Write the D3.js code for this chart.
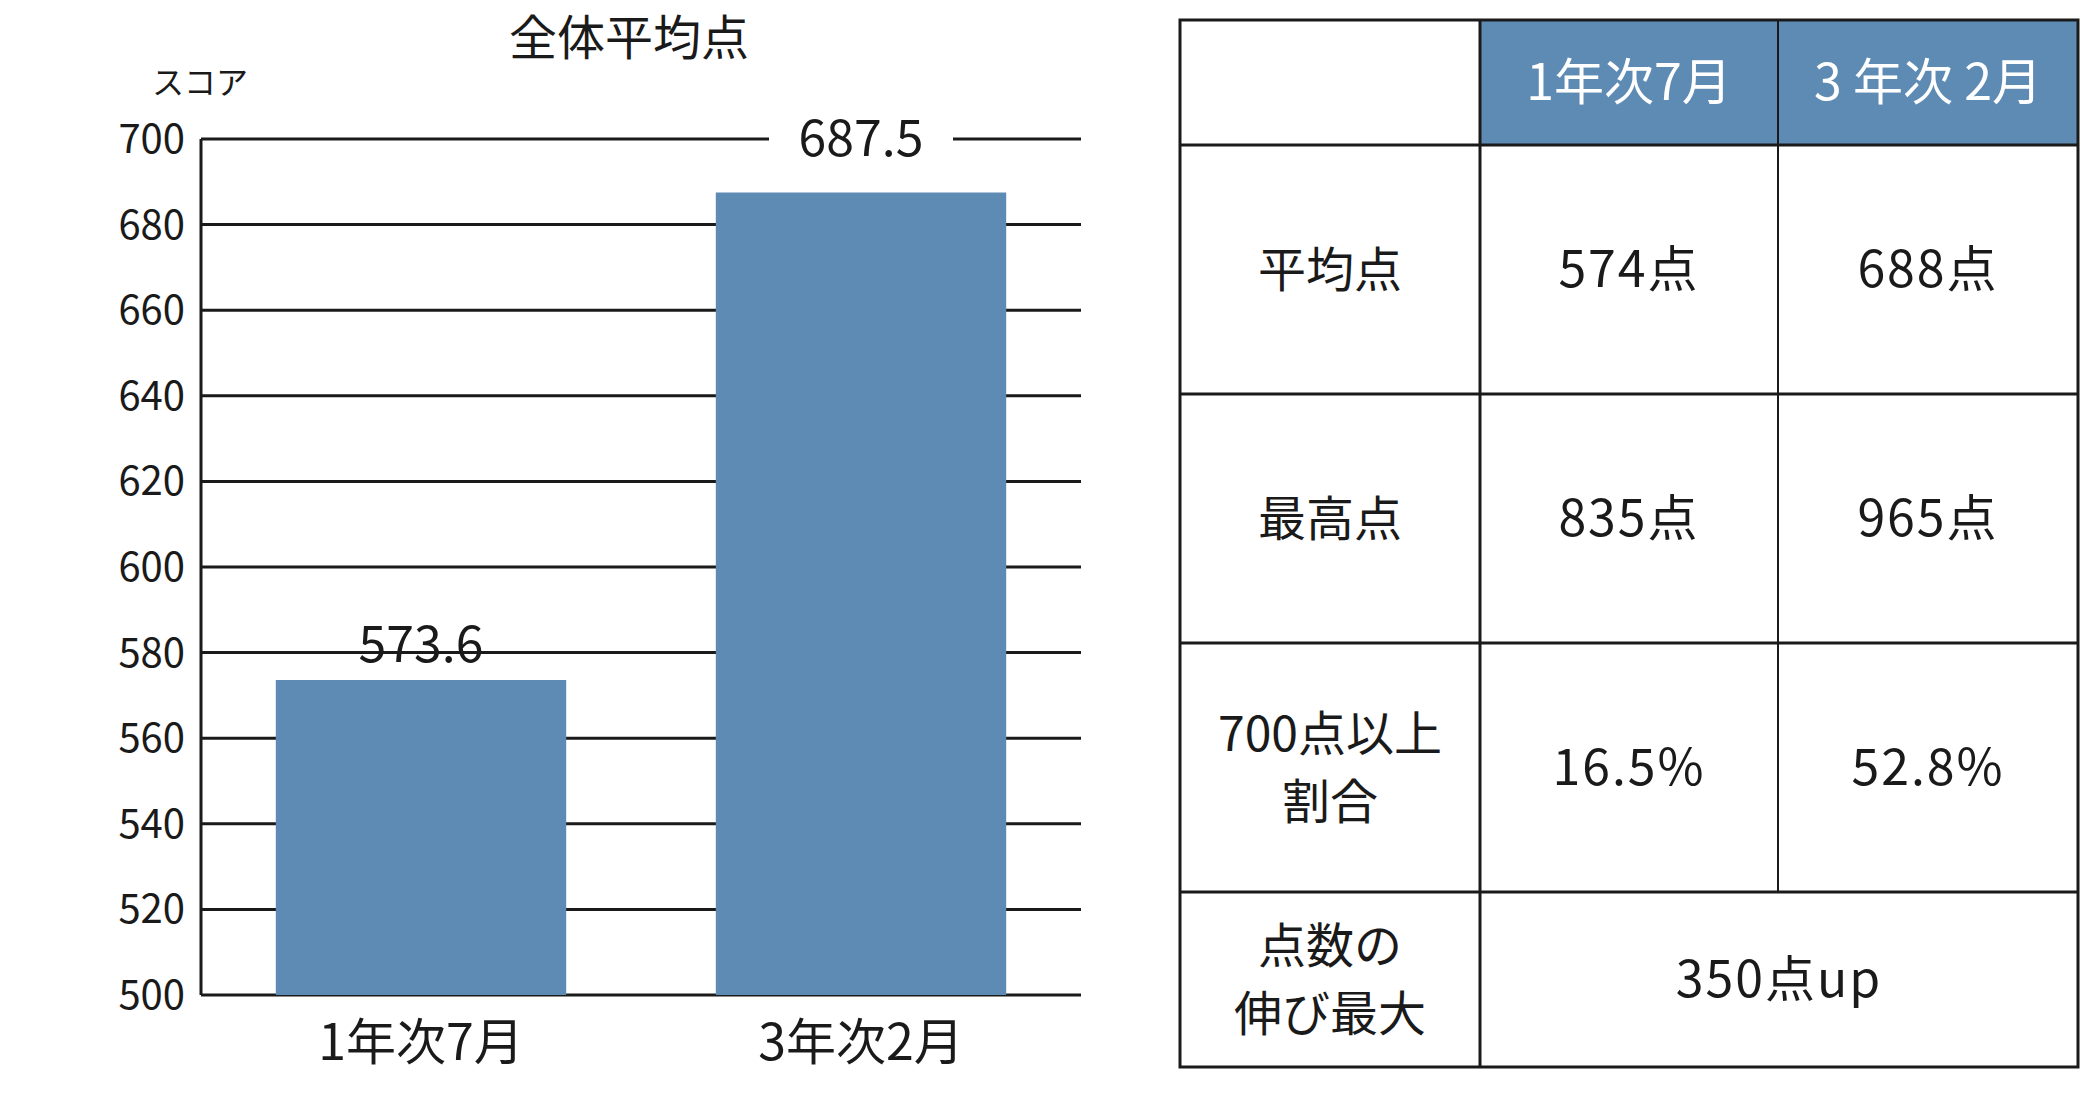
<!DOCTYPE html><html><head><meta charset="utf-8"><script src="https://cdn.jsdelivr.net/npm/d3@7"></script>
<style>body{margin:0;background:#fff}text{font-family:"Noto Sans CJK JP";fill:#1a1a1a}</style></head><body>
<svg id="c" width="2100" height="1108"></svg>
<script>
const categories=["1年次7月","3年次2月"];
const values=[573.6,687.5];
const valueLabels=["573.6","687.5"];
const yTicks=[500,520,540,560,580,600,620,640,660,680,700];
const tableHeader=["","1年次7月","3 年次 2月"];
const rowLabels=[["平均点"],["最高点"],["700点以上","割合"],["点数の","伸び最大"]];
const rowCells=[["574点","688点"],["835点","965点"],["16.5%","52.8%"],["350点up"]];
const blue="#5e8bb4";
const svg=d3.select("#c");
const x=d3.scaleBand().domain(categories).range([201,1081]).paddingInner(0.34).paddingOuter(0.17);
const y=d3.scaleLinear().domain([500,700]).range([995,139]);
const g=svg.append("g");
g.selectAll("line.g").data(yTicks).join("line").attr("x1",201).attr("x2",1081).attr("y1",d=>y(d)).attr("y2",d=>y(d)).attr("stroke","#1a1a1a").attr("stroke-width",3);
g.append("line").attr("x1",201).attr("x2",201).attr("y1",139).attr("y2",995).attr("stroke","#1a1a1a").attr("stroke-width",3);
g.selectAll("text.t").data(yTicks).join("text").attr("x",185).attr("y",d=>y(d)+14).attr("text-anchor","end").attr("font-size",40).text(d=>d);
g.selectAll("rect").data(values).join("rect").attr("x",(d,i)=>x(categories[i])).attr("width",x.bandwidth()).attr("y",d=>y(d)).attr("height",d=>y(500)-y(d)).attr("fill",blue);
values.forEach((v,i)=>{
  const cx=x(categories[i])+x.bandwidth()/2;
  if(i===1){g.append("rect").attr("x",cx-92).attr("y",y(700)-5).attr("width",184).attr("height",10).attr("fill","#fff");
    g.append("text").attr("x",cx).attr("y",y(700)+17).attr("text-anchor","middle").attr("font-size",50).text(valueLabels[i]);}
  else g.append("text").attr("x",cx).attr("y",y(v)-18).attr("text-anchor","middle").attr("font-size",50).text(valueLabels[i]);
  g.append("text").attr("x",cx).attr("y",1060).attr("text-anchor","middle").attr("font-size",50).text(categories[i]);
});
g.append("text").attr("x",629).attr("y",55).attr("text-anchor","middle").attr("font-size",48).text("全体平均点");
g.append("text").attr("x",200).attr("y",94).attr("text-anchor","middle").attr("font-size",32).text("スコア");
const cx=[1180,1480,1778,2078], ry=[20,145,394,643,892,1067];
const T=svg.append("g");
T.append("rect").attr("x",cx[1]).attr("y",ry[0]).attr("width",cx[3]-cx[1]).attr("height",ry[1]-ry[0]).attr("fill",blue);
tableHeader.forEach((h,i)=>{if(h)T.append("text").attr("x",(cx[i]+cx[i+1])/2).attr("y",(ry[0]+ry[1])/2+17).attr("text-anchor","middle").attr("font-size",50).style("fill","#fff").text(h);});
rowLabels.forEach((lab,r)=>{
  const my=(ry[r+1]+ry[r+2])/2;
  lab.forEach((l,k)=>T.append("text").attr("x",(cx[0]+cx[1])/2).attr("y",my+17+(k-(lab.length-1)/2)*68).attr("text-anchor","middle").attr("font-size",48).text(l));
  const cells=rowCells[r];
  if(cells.length===2) cells.forEach((c,j)=>T.append("text").attr("x",(cx[j+1]+cx[j+2])/2).attr("y",my+17).attr("text-anchor","middle").attr("font-size",50).attr("letter-spacing",2).text(c));
  else T.append("text").attr("x",(cx[1]+cx[3])/2).attr("y",my+17).attr("text-anchor","middle").attr("font-size",50).attr("letter-spacing",2).text(cells[0]);
});
const L="#1a1a1a";
T.append("rect").attr("x",cx[0]).attr("y",ry[0]).attr("width",cx[3]-cx[0]).attr("height",ry[5]-ry[0]).attr("fill","none").attr("stroke",L).attr("stroke-width",3);
ry.slice(1,5).forEach(v=>T.append("line").attr("x1",cx[0]).attr("x2",cx[3]).attr("y1",v).attr("y2",v).attr("stroke",L).attr("stroke-width",3));
T.append("line").attr("x1",cx[1]).attr("x2",cx[1]).attr("y1",ry[0]).attr("y2",ry[5]).attr("stroke",L).attr("stroke-width",3);
T.append("line").attr("x1",cx[2]).attr("x2",cx[2]).attr("y1",ry[0]).attr("y2",ry[4]).attr("stroke",L).attr("stroke-width",2);
</script></body></html>
